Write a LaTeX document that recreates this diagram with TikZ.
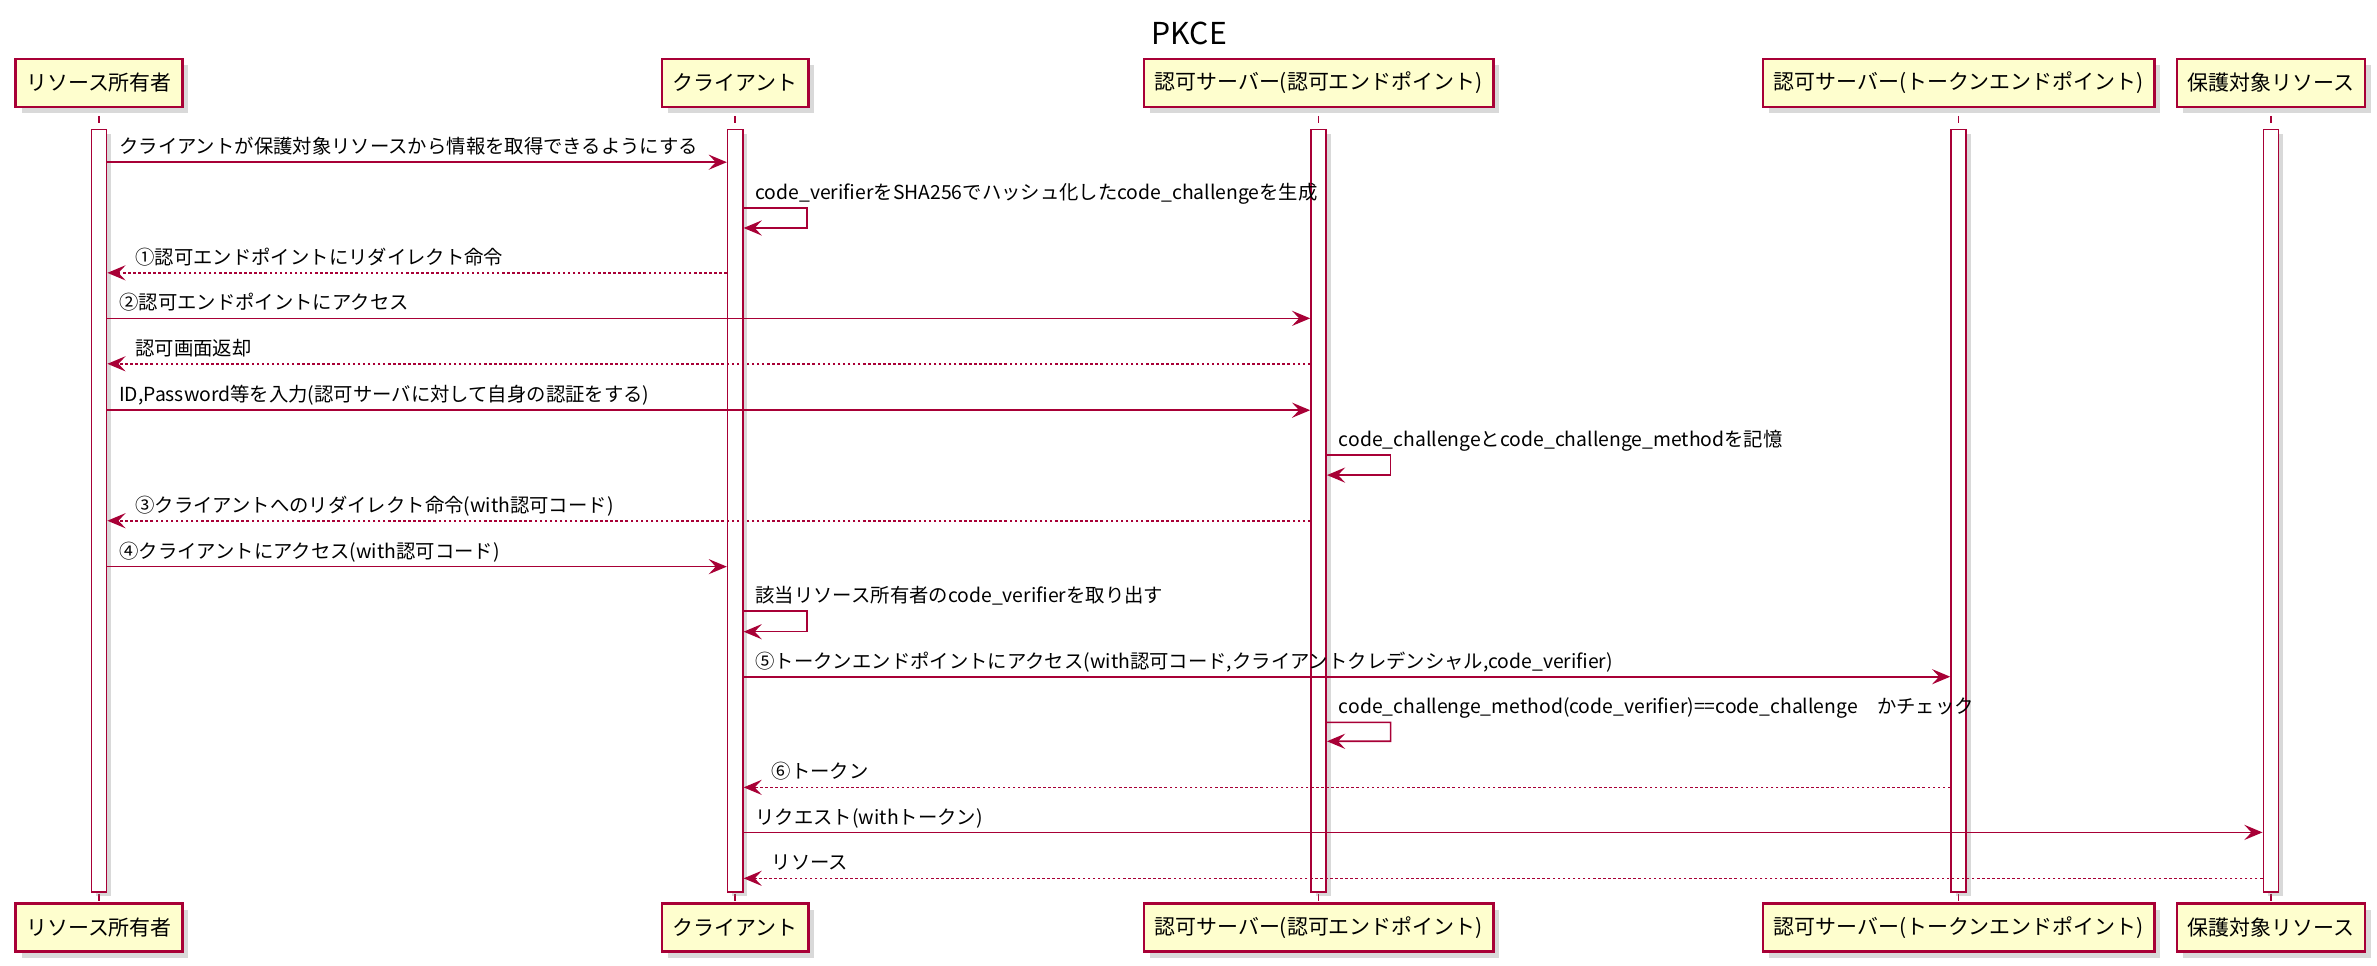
\documentclass[tikz,border=0pt]{standalone}
\usepackage{fontspec}
\setmainfont{Noto Sans CJK JP}
\usetikzlibrary{arrows.meta,shadows}
\definecolor{umlred}{HTML}{A80036}
\definecolor{umlfill}{HTML}{FEFECE}

\begin{document}
\begin{tikzpicture}[x=0.15mm, y=-0.15mm,
  actor/.style={draw=umlred, fill=umlfill, line width=0.7pt, inner xsep=1.05mm, minimum height=4.75mm, font=\fontsize{5.9}{7}\selectfont, drop shadow={opacity=0.3, shadow xshift=0.6mm, shadow yshift=-0.6mm}},
  bar/.style={draw=umlred, fill=white, line width=0.45pt, minimum width=1.5mm, minimum height=75.4mm, inner sep=0pt, drop shadow={opacity=0.3, shadow xshift=0.45mm, shadow yshift=-0.45mm}},
  life/.style={umlred, line width=0.45pt, dash pattern=on 0.75mm off 0.759mm, dash phase=0.75mm},
  call/.style={umlred, line width=0.45pt, -{Stealth[length=1.8mm, width=1.5mm, inset=0.7mm]}},
  reply/.style={call, dash pattern=on 0.25mm off 0.25mm},
  msg/.style={text=black, font=\fontsize{5.45}{6.5}\selectfont, inner sep=0pt, anchor=base west, yshift=0.83mm},
]
\useasboundingbox (0,0) rectangle (1568,637.2);

\node[font=\fontsize{8.5}{10}\selectfont] (title) at (784.5,22) {PKCE};

\foreach \n/\x/\t in {o/65.3/リソース所有者, c/485/クライアント, a/869.8/認可サーバー(認可エンドポイント), t/1292/認可サーバー(トークンエンドポイント), r/1498/保護対象リソース}{
  \node[actor] (\n) at (\x,54.75) {\t};
  \node[actor] (\n b) at (\x,611.8) {\t};
  \draw[life] (\n.south) -- (\n b.north);
  \node[bar] (\n bar) at (\x,336.9) {};
}

\draw[call] (obar.east |- 0,107) -- (cbar.west |- 0,107) node[msg, pos=0, xshift=1.1mm] {クライアントが保護対象リソースから情報を取得できるようにする};
\draw[call] (cbar.east |- 0,137.4) node[msg, xshift=1.1mm] {code\_verifierをSHA256でハッシュ化したcode\_challengeを生成} -- ++(42,0) -- ++(0,13) -- (cbar.east |- 0,150.4);
\draw[reply] (cbar.west |- 0,180) -- (obar.east |- 0,180) node[msg, pos=1, xshift=2.7mm] {①認可エンドポイントにリダイレクト命令};
\draw[call] (obar.east |- 0,210) -- (abar.west |- 0,210) node[msg, pos=0, xshift=1.1mm] {②認可エンドポイントにアクセス};
\draw[reply] (abar.west |- 0,240) -- (obar.east |- 0,240) node[msg, pos=1, xshift=2.7mm] {認可画面返却};
\draw[call] (obar.east |- 0,270.6) -- (abar.west |- 0,270.6) node[msg, pos=0, xshift=1.1mm] {ID,Password等を入力(認可サーバに対して自身の認証をする)};
\draw[call] (abar.east |- 0,300) node[msg, xshift=1.1mm] {code\_challengeとcode\_challenge\_methodを記憶} -- ++(42,0) -- ++(0,13.4) -- (abar.east |- 0,313.4);
\draw[reply] (abar.west |- 0,343.5) -- (obar.east |- 0,343.5) node[msg, pos=1, xshift=2.7mm] {③クライアントへのリダイレクト命令(with認可コード)};
\draw[call] (obar.east |- 0,373.8) -- (cbar.west |- 0,373.8) node[msg, pos=0, xshift=1.1mm] {④クライアントにアクセス(with認可コード)};
\draw[call] (cbar.east |- 0,403.1) node[msg, xshift=1.1mm] {該当リソース所有者のcode\_verifierを取り出す} -- ++(42,0) -- ++(0,13.6) -- (cbar.east |- 0,416.7);
\draw[call] (cbar.east |- 0,446.4) -- (tbar.west |- 0,446.4) node[msg, pos=0, xshift=1.1mm] {⑤トークンエンドポイントにアクセス(with認可コード,クライアントクレデンシャル,code\_verifier)};
\draw[call] (abar.east |- 0,476.5) node[msg, xshift=1.1mm] {code\_challenge\_method(code\_verifier)==code\_challenge　かチェック} -- ++(42,0) -- ++(0,12.5) -- (abar.east |- 0,489);
\draw[reply] (tbar.west |- 0,519.4) -- (cbar.east |- 0,519.4) node[msg, pos=1, xshift=2.7mm] {⑥トークン};
\draw[call] (cbar.east |- 0,549.1) -- (rbar.west |- 0,549.1) node[msg, pos=0, xshift=1.1mm] {リクエスト(withトークン)};
\draw[reply] (rbar.west |- 0,579.4) -- (cbar.east |- 0,579.4) node[msg, pos=1, xshift=2.7mm] {リソース};

\end{tikzpicture}
\end{document}
